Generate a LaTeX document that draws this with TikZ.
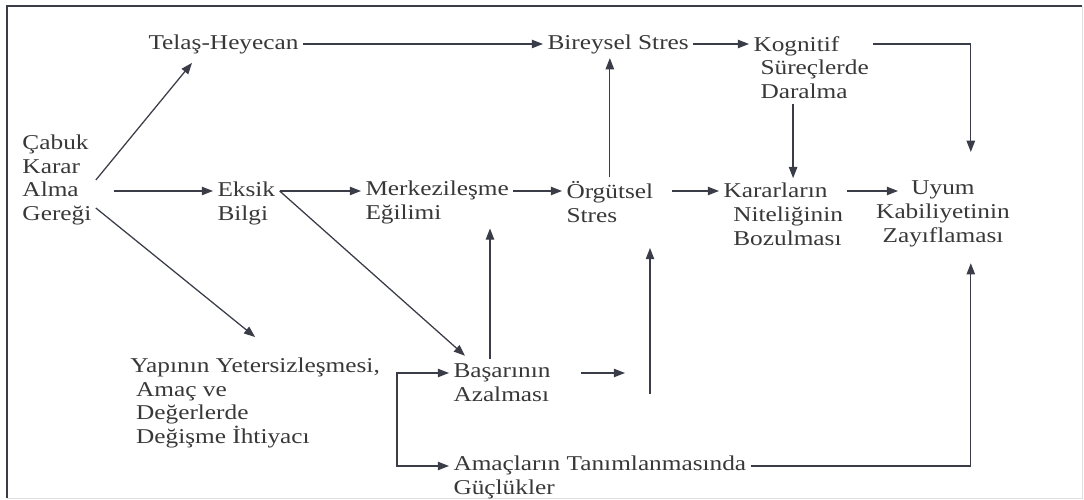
\documentclass[tikz,border=0pt]{standalone}
\usepackage{fontspec}
\setmainfont{Liberation Serif}[FakeStretch=1.2]
\usetikzlibrary{arrows.meta}
\definecolor{ink}{HTML}{3A3D48}
\tikzset{
  arr/.style={draw=ink,line width=0.9pt,-{Triangle[length=8pt,width=6pt]}},
  box/.style={inner sep=3pt,text=black!78,align=left,anchor=west,font=\fontsize{15}{17}\selectfont}
}
\begin{document}
\begin{tikzpicture}
\useasboundingbox (0,0) rectangle (27.1,12.5);
\draw[ink,line width=1pt] (0.175,0.05) -- (0.175,12.35) -- (27.05,12.35);
\draw[black!12,line width=0.6pt] (27.05,12.35) -- (27.05,0.05) -- (0.175,0.05);

\coordinate (r1) at (0,11.4);
\coordinate (r2) at (0,7.725);
\coordinate (r3) at (0,3.175);
\coordinate (r4) at (0,0.85);

\node[box] (tel) at (3.6,11.4) {Telaş-Heyecan};
\node[box] (bir) at (13.575,11.4) {Bireysel Stres};
\node[box] (kog) at (18.725,10.81) {Kognitif\\\hspace*{5pt}Süreçlerde\\\hspace*{5pt}Daralma};
\node[box] (cab) at (0.45,8.0) {Çabuk\\Karar\\Alma\\Gereği};
\node[box] (eks) at (5.325,7.41) {Eksik\\Bilgi};
\node[box] (mer) at (9.025,7.44) {Merkezileşme\\Eğilimi};
\node[box] (org) at (14.05,7.44) {Örgütsel\\Stres};
\node[box] (kar) at (17.975,7.15) {Kararların\\\hspace*{7pt}Niteliğinin\\\hspace*{7pt}Bozulması};
\node[box,align=center,anchor=center] (uyu) at (23.575,7.15) {Uyum\\Kabiliyetinin\\Zayıflaması};
\node[box] (yap) at (3.15,2.425) {Yapının Yetersizleşmesi,\\\hspace*{4pt}Amaç ve\\\hspace*{4pt}Değerlerde\\\hspace*{4pt}Değişme İhtiyacı};
\node[box] (bas) at (11.225,2.94) {Başarının\\Azalması};
\node[box] (ama) at (11.225,0.575) {Amaçların Tanımlanmasında\\Güçlükler};

\coordinate (uyuTop) at (24.27,8.7);
\coordinate (uyuBot) at (24.27,5.92);
\coordinate (uyuIn) at (22.45,7.725);
\coordinate (kd) at ([xshift=-0.45cm]kog.south);
\coordinate (bu) at ([xshift=-0.3cm]bas.north);
\coordinate (basEnd) at (15.625,3.175);
\coordinate (upA) at (16.25,2.65);
\coordinate (upB) at (16.25,6.3);
\coordinate (brk) at (9.925,0);

\draw[arr] (tel) -- (bir);
\draw[arr] (bir.east) -- (kog.west |- r1);
\draw[arr] (kog.east |- r1) -| (uyuTop);
\draw[arr] (kd) -- (kd |- kar.north);
\draw[arr] (cab.east) -- ([xshift=1.2cm,yshift=-0.12cm]tel.south west);
\draw[arr,shorten <=0.45cm] (cab.east |- r2) -- (eks.west |- r2);
\draw[arr] ([yshift=-0.7cm]cab.east) -- ([yshift=0.4cm]yap.north);
\draw[arr] (eks.east |- r2) -- (mer.west |- r2);
\draw[arr] (eks.east |- r2) -- ([xshift=0.4cm,yshift=0.08cm]bas.north west);
\draw[arr] (mer.east |- r2) -- (org.west |- r2);
\draw[arr] (org.north) -- (org.north |- bir.south);
\draw[arr,shorten <=0.35cm] (org.east |- r2) -- (kar.west |- r2);
\draw[arr] (kar.east |- r2) -- (uyuIn);
\draw[arr] (bu) -- (bu |- mer.south);
\draw[arr,shorten <=0.65cm] (bas.east |- r3) -- (basEnd);
\draw[arr] (upA) -- (upB);
\draw[arr] (brk |- r4) |- (bas.west |- r3);
\draw[arr] (brk |- r3) |- (ama.west |- r4);
\draw[arr] (ama.east |- r4) -| (uyuBot);
\end{tikzpicture}
\end{document}
